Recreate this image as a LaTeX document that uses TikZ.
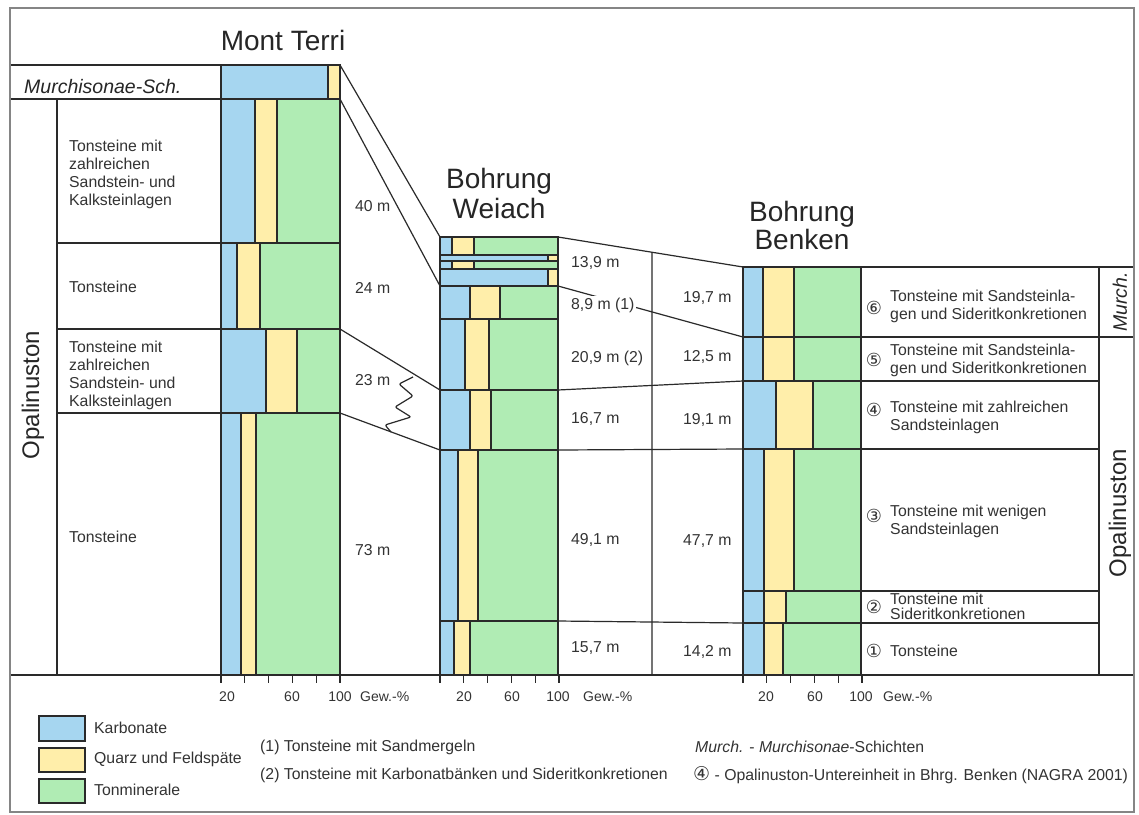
\documentclass[tikz,border=0pt]{standalone}
\usepackage{fontspec}
\setmainfont{Liberation Sans}
\newfontfamily\dejavu{DejaVu Sans}
\usetikzlibrary{calc}
\definecolor{cb}{HTML}{A6D6F0}
\definecolor{cy}{HTML}{FFEEAA}
\definecolor{cg}{HTML}{B0ECB4}
\definecolor{txt}{HTML}{333333}
\definecolor{lnc}{HTML}{2A2A2A}
\definecolor{framec}{HTML}{858585}
\tikzset{
  ln/.style={draw=lnc, line width=1.2pt},
  lbl/.style={font=\fontsize{15.8}{18}\selectfont, text=txt, inner sep=0pt, align=left},
  axl/.style={font=\fontsize{14}{16}\selectfont, text=txt, inner sep=0pt},
  ttl/.style={font=\fontsize{28}{30}\selectfont, text=black!85, inner sep=0pt},
  big/.style={font=\fontsize{24}{26}\selectfont, text=black!85, inner sep=0pt},
  murch/.style={font=\fontsize{19.5}{22}\selectfont\itshape, text=black!85, inner sep=0pt},
  circ/.style={font=\dejavu\fontsize{18}{20}\selectfont, text=txt, inner sep=0pt},
  legbox/.style={draw=lnc, line width=1.2pt}
}
\newcommand{\layerbar}[6]{%
  \filldraw[fill=cb,ln] (#1,#3) rectangle (#5,#4);
  \filldraw[fill=cy,ln] (#5,#3) rectangle (#6,#4);
  \filldraw[fill=cg,ln] (#6,#3) rectangle (#2,#4);
}
\begin{document}
\begin{tikzpicture}[x=1pt,y=-1pt]
\useasboundingbox (0,0) rectangle (1139,814);
\fill[white] (0,0) rectangle (1139,814);

% ---------- titles
\node[ttl, anchor=base] (tmt) at (283,50) {Mont Terri};
\node[ttl, anchor=base] (tw1) at (499,188) {Bohrung};
\node[ttl, anchor=base] (tw2) at (499,218) {Weiach};
\node[ttl, anchor=base] (tb1) at (802,221) {Bohrung};
\node[ttl, anchor=base] (tb2) at (802,249) {Benken};

% ---------- Mont Terri bars
\layerbar{221}{340}{65}{99}{328}{340}
\layerbar{221}{340}{99}{243}{255}{277}
\layerbar{221}{340}{243}{329}{237}{260}
\layerbar{221}{340}{329}{413}{266}{297}
\layerbar{221}{340}{413}{675}{241}{256}

% ---------- Weiach bars
\layerbar{440}{558}{237}{255}{452}{474}
\layerbar{440}{558}{255}{261}{548}{558}
\layerbar{440}{558}{261}{269}{452}{474}
\layerbar{440}{558}{269}{286}{548}{558}
\layerbar{440}{558}{286}{319}{470}{500}
\layerbar{440}{558}{319}{390}{465}{489}
\layerbar{440}{558}{390}{450}{470}{491}
\layerbar{440}{558}{450}{621}{458}{478}
\layerbar{440}{558}{621}{675}{454}{470}

% ---------- Benken bars
\layerbar{743}{861}{267}{337}{763}{794}
\layerbar{743}{861}{337}{381}{763}{794}
\layerbar{743}{861}{381}{449}{776}{813}
\layerbar{743}{861}{449}{591}{764}{794}
\layerbar{743}{861}{591}{623}{764}{786}
\layerbar{743}{861}{623}{675}{764}{783}

% ---------- Mont Terri frame lines
\draw[ln] (10,65) -- (221,65);
\draw[ln] (10,99) -- (221,99);
\draw[ln] (57,99) -- (57,675);
\draw[ln] (57,243) -- (221,243);
\draw[ln] (57,329) -- (221,329);
\draw[ln] (57,413) -- (221,413);

% ---------- correlation coordinates
\coordinate (mtA) at (340,65);
\coordinate (mtB) at (340,99);
\coordinate (mtC) at (340,329);
\coordinate (mtD) at (340,413);
\coordinate (wA) at (440,237);
\coordinate (wB) at (440,286);
\coordinate (wC) at (440,390);
\coordinate (wD) at (440,450);
\coordinate (wE) at (558,237);
\coordinate (wF) at (558,286);
\coordinate (wG) at (558,390);
\coordinate (wH) at (558,450);
\coordinate (wI) at (558,621);
\coordinate (bA) at (743,267);
\coordinate (bB) at (743,337);
\coordinate (bC) at (743,381);
\coordinate (bD) at (743,449);
\coordinate (bE) at (743,623);

\draw[ln] (mtA) -- (wA);
\draw[ln] (mtB) -- (wB);
\draw[ln] (mtC) -- (wC);
\draw[ln] (mtD) -- (wD);
\draw[ln] (wE) -- (bA);
\draw[ln] (wF) -- (bB);
\draw[ln] (wG) -- (bC);
\draw[ln] (wH) -- (bD);
\draw[ln] (wI) -- (bE);
\coordinate (vtop) at ($(wE)!0.5081!(bA)$);
\coordinate (vbot) at (652,675);
\draw[ln] (vtop) -- (vbot);

% zigzag (23 m)
\draw[ln, rounded corners=2pt] (413,377) -- (399,384) -- (413,396) -- (395,407) -- (411,417) -- (385,425) -- (391,432);

% ---------- Benken label columns
\draw[ln] (861,267) -- (1134,267);
\draw[ln] (861,337) -- (1134,337);
\draw[ln] (861,381) -- (1099,381);
\draw[ln] (861,449) -- (1099,449);
\draw[ln] (861,591) -- (1099,591);
\draw[ln] (861,623) -- (1099,623);
\draw[ln] (1099,267) -- (1099,675);

% ---------- axis and ticks
\draw[ln] (10,675) -- (1134,675);
\foreach \s in {221,440,743}{
  \foreach \k in {0,...,5}{
    \draw[ln] ({\s+\k*23.8},675) -- ({\s+\k*23.8},683);
  }
}
\node[axl] (a1) at (227,697) {20};
\node[axl] (a2) at (292,697) {60};
\node[axl] (a3) at (340,697) {100};
\node[axl, anchor=west] (a4) at (360,697) {Gew.-\%};
\node[axl] (b1) at (464,697) {20};
\node[axl] (b2) at (512,697) {60};
\node[axl] (b3) at (558,697) {100};
\node[axl, anchor=west] (b4) at (583,697) {Gew.-\%};
\node[axl] (c1) at (766,697) {20};
\node[axl] (c2) at (815,697) {60};
\node[axl] (c3) at (861,697) {100};
\node[axl, anchor=west] (c4) at (883,697) {Gew.-\%};

% ---------- Mont Terri texts
\node[murch, anchor=base west] (murchsch) at (24,93) {Murchisonae-Sch.};
\node[lbl, anchor=west] (m1) at (69,174) {Tonsteine mit\\zahlreichen\\Sandstein- und\\Kalksteinlagen};
\node[lbl, anchor=west] (m2) at (69,287) {Tonsteine};
\node[lbl, anchor=west] (m3) at (69,375) {Tonsteine mit\\zahlreichen\\Sandstein- und\\Kalksteinlagen};
\node[lbl, anchor=west] (m4) at (69,537) {Tonsteine};
\node[big, rotate=90] (opl) at (33,395) {Opalinuston};

\node[lbl, anchor=west] (d1) at (355,206) {40 m};
\node[lbl, anchor=west] (d2) at (355,288) {24 m};
\node[lbl, anchor=west] (d3) at (355,380) {23 m};
\node[lbl, anchor=west] (d4) at (355,550) {73 m};

% ---------- Weiach thickness
\node[lbl, anchor=west] (w1) at (571,263) {13,9 m};
\node[lbl, anchor=west, fill=white, inner sep=1.5pt] (w2) at (569.5,305) {8,9 m (1)};
\node[lbl, anchor=west] (w3) at (571,358) {20,9 m (2)};
\node[lbl, anchor=west] (w4) at (571,419) {16,7 m};
\node[lbl, anchor=west] (w5) at (571,540) {49,1 m};
\node[lbl, anchor=west] (w6) at (571,648) {15,7 m};

% ---------- Benken thickness
\node[lbl, anchor=west] (k1) at (683,298) {19,7 m};
\node[lbl, anchor=west] (k2) at (683,357) {12,5 m};
\node[lbl, anchor=west] (k3) at (683,420) {19,1 m};
\node[lbl, anchor=west] (k4) at (683,541) {47,7 m};
\node[lbl, anchor=west] (k5) at (683,652) {14,2 m};

% ---------- Benken units
\node[circ] (u6) at (874,308) {⑥};
\node[lbl, anchor=west] (t6) at (890,306) {Tonsteine mit Sandsteinla-\\gen und Sideritkonkretionen};
\node[circ] (u5) at (874,360) {⑤};
\node[lbl, anchor=west] (t5) at (890,360) {Tonsteine mit Sandsteinla-\\gen und Sideritkonkretionen};
\node[circ] (u4) at (874,410) {④};
\node[lbl, anchor=west] (t4) at (890,417) {Tonsteine mit zahlreichen\\Sandsteinlagen};
\node[circ] (u3) at (874,516) {③};
\node[lbl, anchor=west] (t3) at (890,521) {Tonsteine mit wenigen\\Sandsteinlagen};
\node[circ] (u2) at (874,607) {②};
\node[lbl, anchor=west, font=\fontsize{15.8}{15}\selectfont] (t2) at (890,606) {Tonsteine mit\\Sideritkonkretionen};
\node[circ] (u1) at (874,651) {①};
\node[lbl, anchor=west] (t1) at (890,651) {Tonsteine};

\node[murch, rotate=90] (murchr) at (1120,302) {Murch.};
\node[big, rotate=90] (opr) at (1120,513) {Opalinuston};

% ---------- legend
\filldraw[legbox, fill=cb] (39,716) rectangle (85,741);
\filldraw[legbox, fill=cy] (39,748) rectangle (85,772);
\filldraw[legbox, fill=cg] (39,779) rectangle (85,803);
\node[lbl, anchor=west] (l1) at (94,728) {Karbonate};
\node[lbl, anchor=west] (l2) at (94,759) {Quarz und Feldspäte};
\node[lbl, anchor=west] (l3) at (94,790) {Tonminerale};
\node[lbl, anchor=west] (n1) at (260,747) {(1) Tonsteine mit Sandmergeln};
\node[lbl, anchor=west] (n2) at (260,775) {(2) Tonsteine mit Karbonatbänken und Sideritkonkretionen};
\node[lbl, anchor=west] (n3) at (695,747) {\textit{Murch.} - \textit{Murchisonae}-Schichten};
\node[lbl, anchor=west] (n4) at (693,775) {{\dejavu\fontsize{19}{20}\selectfont ④} - Opalinuston-Untereinheit in Bhrg. Benken (NAGRA 2001)};

% ---------- outer frame
\draw[draw=framec, line width=2.5pt] (10,8) rectangle (1134,812);
\end{tikzpicture}
\end{document}
